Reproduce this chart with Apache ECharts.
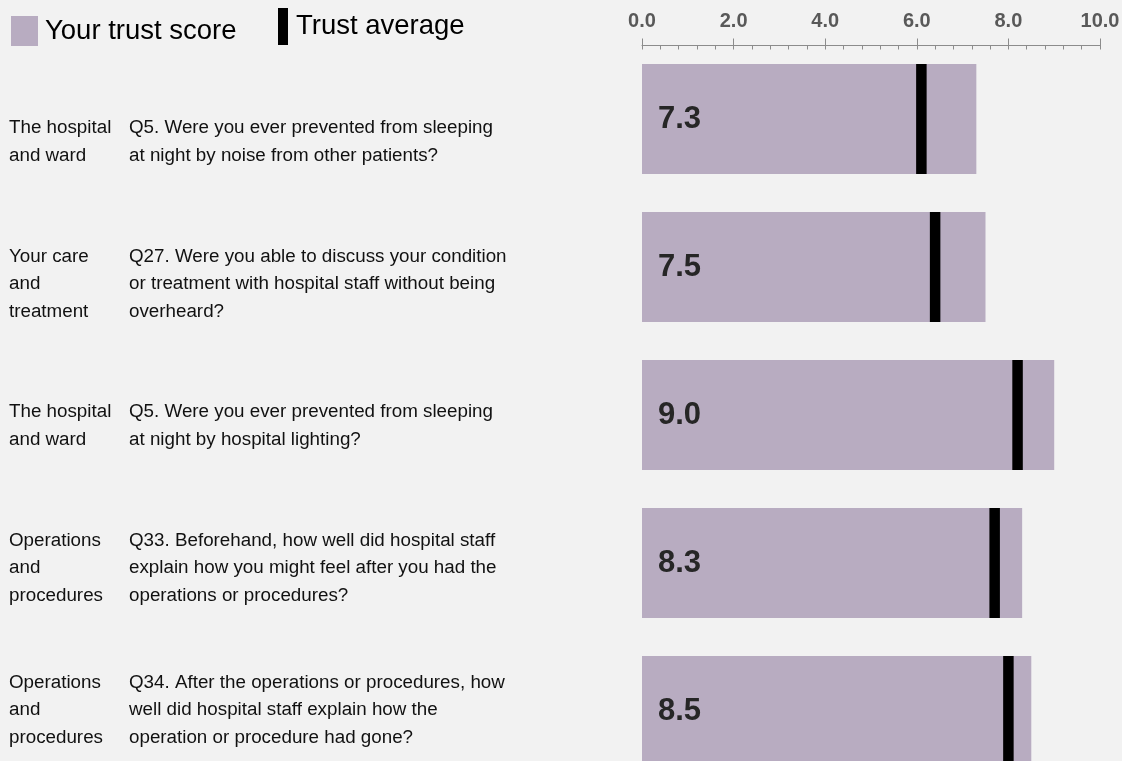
<!DOCTYPE html>
<html>
<head>
<meta charset="utf-8">
<script src="https://cdn.jsdelivr.net/npm/echarts@6/dist/echarts.min.js"></script>
<style>
  html, body { margin: 0; padding: 0; background: #f2f2f2; }
  #chart { width: 1122px; height: 761px; }
</style>
</head>
<body>
<div id="chart"></div>
<script>
// data
const sections = [
  'The hospital\nand ward',
  'Your care\nand\ntreatment',
  'The hospital\nand ward',
  'Operations\nand\nprocedures',
  'Operations\nand\nprocedures'
];
const questions = [
  'Q5. Were you ever prevented from sleeping\nat night by noise from other patients?',
  'Q27. Were you able to discuss your condition\nor treatment with hospital staff without being\noverheard?',
  'Q5. Were you ever prevented from sleeping\nat night by hospital lighting?',
  'Q33. Beforehand, how well did hospital staff\nexplain how you might feel after you had the\noperations or procedures?',
  'Q34. After the operations or procedures, how\nwell did hospital staff explain how the\noperation or procedure had gone?'
];
const yourScore = [7.3, 7.5, 9.0, 8.3, 8.5];
const trustAvg = [6.1, 6.4, 8.2, 7.7, 8.0];
const scaleTicks = [0, 2, 4, 6, 8, 10];

const FONT = '"Liberation Sans", Arial, sans-serif';
const BAR_COLOR = '#b8acc1';
const AXIS_GREY = '#8c8c8c';

const chart = echarts.init(document.getElementById('chart'));

// text columns on the left sit in their own grid (rows are spaced a bit differently from the bars)
const rowLabel = (margin) => ({
  type: 'category',
  gridIndex: 1,
  inverse: true,
  position: 'left',
  axisLine: { show: false },
  axisTick: { show: false },
  axisLabel: {
    interval: 0,
    align: 'left',
    margin: margin,
    fontFamily: FONT,
    fontSize: 18.8,
    lineHeight: 27.5,
    color: '#111'
  }
});

chart.setOption({
  backgroundColor: '#f2f2f2',
  animation: false,
  textStyle: { fontFamily: FONT },
  grid: [
    { left: 642, right: 22, top: 45, bottom: -24, containLabel: false, outerBoundsMode: 'none' },
    { left: 642, right: 22, top: 71, bottom: -20, containLabel: false, outerBoundsMode: 'none' }
  ],
  legend: [
    {
      data: ['Your trust score'],
      left: 11, top: 16, padding: 0,
      icon: 'rect',
      itemWidth: 27, itemHeight: 30,
      selectedMode: false,
      textStyle: { fontFamily: FONT, fontSize: 27.5, color: '#000', padding: [0, 0, 0, 2] }
    },
    {
      data: ['Trust average'],
      left: 278, top: 8, padding: 0,
      icon: 'rect',
      itemWidth: 10, itemHeight: 37,
      selectedMode: false,
      textStyle: { fontFamily: FONT, fontSize: 27.5, color: '#000', padding: [0, 0, 0, 3] }
    }
  ],
  xAxis: [
    {
      type: 'value',
      position: 'top',
      min: scaleTicks[0],
      max: scaleTicks[scaleTicks.length - 1],
      interval: 2,
      splitLine: { show: false },
      axisLine: { show: true, lineStyle: { color: AXIS_GREY, width: 1 } },
      axisTick: { show: true, inside: true, length: 4.5, lineStyle: { color: AXIS_GREY } },
      minorTick: { show: true, splitNumber: 5, length: 4.5, lineStyle: { color: AXIS_GREY } },
      axisLabel: {
        margin: 14,
        fontFamily: FONT,
        fontSize: 20,
        fontWeight: 'bold',
        color: '#595959',
        formatter: v => v.toFixed(1)
      }
    },
    {
      // upward half of the major ticks
      type: 'value',
      position: 'top',
      min: scaleTicks[0],
      max: scaleTicks[scaleTicks.length - 1],
      interval: 2,
      splitLine: { show: false },
      axisLine: { show: false },
      axisTick: { show: true, inside: false, length: 6.5, lineStyle: { color: AXIS_GREY } },
      axisLabel: { show: false }
    },
    { type: 'value', gridIndex: 1, show: false }
  ],
  yAxis: [
    {
      type: 'category',
      inverse: true,
      data: sections,
      axisLine: { show: false },
      axisTick: { show: false },
      axisLabel: { show: false }
    },
    Object.assign(rowLabel(633), { data: sections }),
    Object.assign(rowLabel(513), { data: questions })
  ],
  series: [
    {
      name: 'Your trust score',
      type: 'bar',
      xAxisIndex: 0,
      yAxisIndex: 0,
      data: yourScore,
      barWidth: 110,
      itemStyle: { color: BAR_COLOR },
      label: {
        show: true,
        position: 'insideLeft',
        distance: 16,
        fontFamily: FONT,
        fontSize: 31,
        fontWeight: 'bold',
        color: '#262626',
        formatter: p => p.value.toFixed(1)
      }
    },
    {
      name: 'Trust average',
      type: 'scatter',
      xAxisIndex: 0,
      yAxisIndex: 0,
      data: trustAvg.map((v, i) => [v, i]),
      symbol: 'rect',
      symbolSize: [10.5, 110],
      itemStyle: { color: '#000', opacity: 1 },
      z: 5
    }
  ]
});
</script>
</body>
</html>
